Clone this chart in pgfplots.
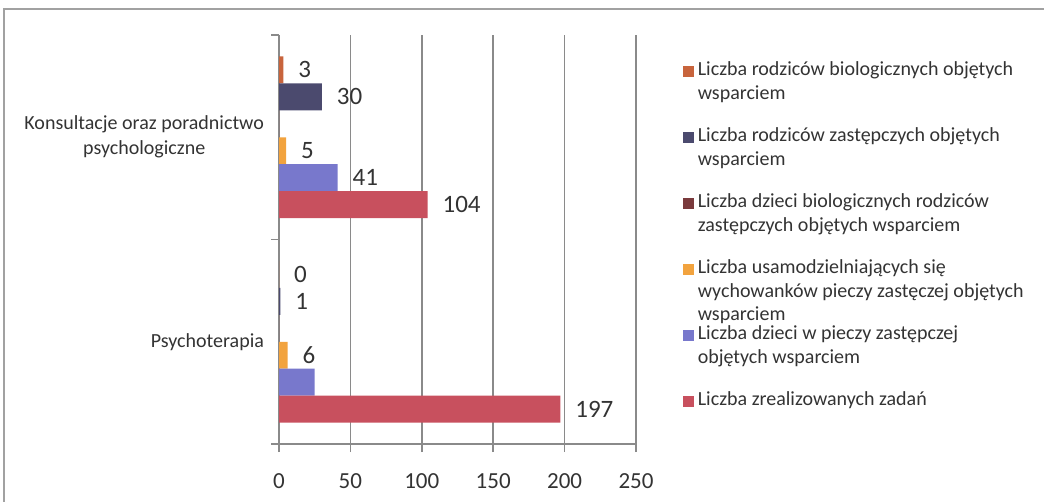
\documentclass[border=0pt]{standalone}
\usepackage{pgfplots}
\pgfplotsset{compat=1.18}
\usepackage{fontspec}
\setmainfont{Carlito}

\definecolor{cBioRod}{HTML}{C8643C}
\definecolor{cZastRod}{HTML}{4B4A6E}
\definecolor{cBioDzieci}{HTML}{7A3A3C}
\definecolor{cUsam}{HTML}{F2A33E}
\definecolor{cDzieci}{HTML}{7878CC}
\definecolor{cZad}{HTML}{C8505E}
\definecolor{txt}{HTML}{333333}
\definecolor{gridc}{HTML}{8A8A8A}

\begin{document}
\begin{tikzpicture}
\useasboundingbox (0pt,0pt) rectangle (522pt,-251pt);
% ramka wykresu
\draw[gridc!80, line width=0.8pt] (2pt,-251pt) -- (2pt,-4.5pt) -- (522pt,-4.5pt);
\begin{axis}[
    at={(139.5pt,-222pt)}, anchor=south west,
    scale only axis, width=178.5pt, height=204.5pt,
    xbar, bar width=0.132,
    xmin=0, xmax=250, ymin=-0.5, ymax=1.5,
    axis lines*=left,
    axis line style={gridc, line width=0.8pt},
    xmajorgrids, grid style={gridc, line width=0.8pt},
    xtick={0,50,...,250},
    /pgf/number format/assume math mode=true,
    tick align=outside, major tick length=4pt,
    tick style={gridc, line width=0.8pt},
    xticklabel style={font=\fontsize{11.5}{13}\selectfont, text=txt, yshift=-7.5pt},
    ytick={-0.5,0.5,1.5}, yticklabels={{},{},{}},
    extra y ticks={0,1},
    extra y tick labels={Psychoterapia, {Konsultacje oraz poradnictwo\\psychologiczne}},
    extra y tick style={tick style={draw=none}},
    yticklabel style={align=center, font=\fontsize{10}{12.5}\selectfont, text=txt, xshift=0pt},
    point meta=explicit symbolic,
    nodes near coords,
    nodes near coords style={anchor=west, xshift=4pt, font=\fontsize{12.5}{14}\selectfont, text=txt},
    legend cell align=left,
    legend style={at={(axis description cs:1.13,0.925)}, anchor=north west,
        draw=none, fill=none, inner sep=0pt, row sep=24.75pt,
        font=\fontsize{10}{11.75}\selectfont, text=txt},
    legend image code/.code={\fill[#1] (0pt,0pt) rectangle (5.5pt,5.5pt);},
]
\addplot[fill=cBioRod, draw=none, bar shift=0.33] coordinates {(3,1) [3] (0,0) [0]};
\addlegendentry{\smash{\parbox[t]{180pt}{Liczba rodziców biologicznych objętych\\wsparciem}}}
\addplot[fill=cZastRod, draw=none, bar shift=0.198] coordinates {(30,1) [30] (1,0) [1]};
\addlegendentry{\smash{\parbox[t]{180pt}{Liczba rodziców zastępczych objętych\\wsparciem}}}
\addplot[fill=cBioDzieci, draw=none, bar shift=0.066] coordinates {(0,1) [{}] (0,0) [{}]};
\addlegendentry{\smash{\parbox[t]{180pt}{Liczba dzieci biologicznych rodziców\\zastępczych objętych wsparciem}}}
\addplot[fill=cUsam, draw=none, bar shift=-0.066] coordinates {(5,1) [5] (6,0) [6]};
\addlegendentry{\smash{\parbox[t]{180pt}{Liczba usamodzielniających się\\wychowanków pieczy zastęczej objętych\\wsparciem}}}
\addplot[fill=cDzieci, draw=none, bar shift=-0.198] coordinates {(41,1) [41] (25,0) [{}]};
\addlegendentry{\smash{\parbox[t]{180pt}{Liczba dzieci w pieczy zastępczej\\objętych wsparciem}}}
\addplot[fill=cZad, draw=none, bar shift=-0.33] coordinates {(104,1) [104] (197,0) [197]};
\addlegendentry{\smash{\parbox[t]{180pt}{Liczba zrealizowanych zadań}}}
\end{axis}
\end{tikzpicture}
\end{document}
